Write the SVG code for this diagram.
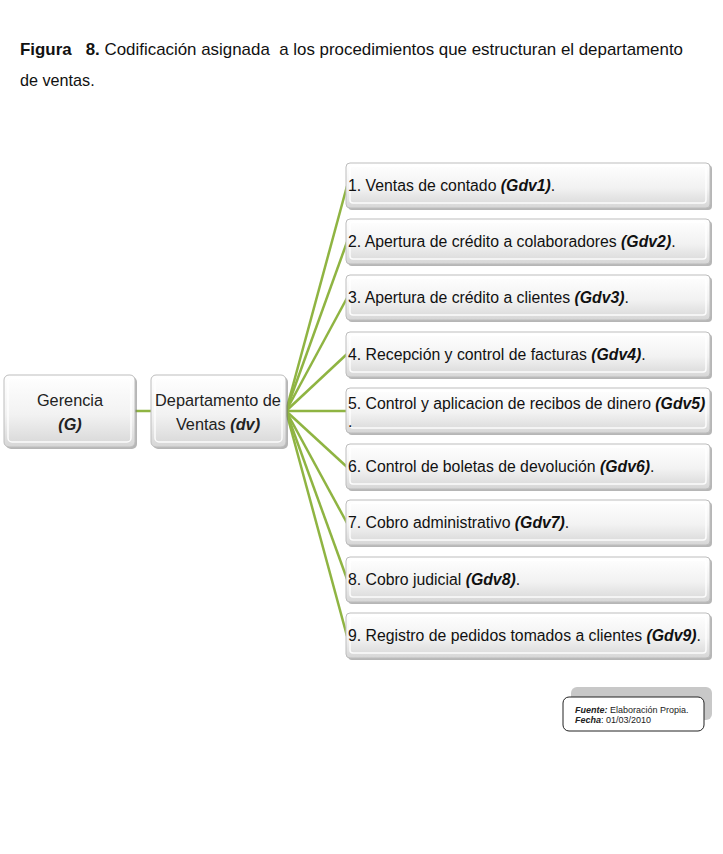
<svg xmlns="http://www.w3.org/2000/svg" width="723" height="854" viewBox="0 0 723 854">
<style>
.t{font-family:"Liberation Sans",Arial,sans-serif;font-size:15.8px;fill:#111}
.c{font-family:"Liberation Sans",Arial,sans-serif;font-size:16.3px;fill:#222;text-anchor:middle}
.bi{font-weight:bold;font-style:italic}
.box{fill:url(#g);stroke:#bdbdbd;stroke-width:1}
.sh{fill:#7a7a7a;opacity:0.55}
.hl{fill:none;stroke:#ffffff;stroke-width:1.5;opacity:0.9}
.con{stroke:#8fb442;stroke-width:2.5;fill:none}
.cap{font-family:"Liberation Sans",Arial,sans-serif;font-size:16.2px;fill:#111;white-space:pre}
.f{font-family:"Liberation Sans",Arial,sans-serif;font-size:9px;fill:#222}
</style>
<defs>
<linearGradient id="g" x1="0" y1="0" x2="0" y2="1">
<stop offset="0" stop-color="#ffffff"/>
<stop offset="0.55" stop-color="#f2f2f2"/>
<stop offset="1" stop-color="#d6d6d6"/>
</linearGradient>
</defs>
<rect width="723" height="854" fill="#ffffff"/>
<g id="title">
<text class="cap" x="20" y="55" textLength="663" lengthAdjust="spacingAndGlyphs"><tspan font-weight="bold">Figura   8.</tspan> Codificación asignada  a los procedimientos que estructuran el departamento</text>
<text class="cap" x="20" y="86">de ventas.</text>
</g>
<g id="connectors">
<line class="con" x1="135" y1="411" x2="151" y2="411"/>
<line class="con" x1="286" y1="411" x2="347" y2="186"/>
<line class="con" x1="286" y1="411" x2="347" y2="242"/>
<line class="con" x1="286" y1="411" x2="347" y2="298"/>
<line class="con" x1="286" y1="411" x2="347" y2="354"/>
<line class="con" x1="286" y1="411" x2="347" y2="411"/>
<line class="con" x1="286" y1="411" x2="347" y2="467"/>
<line class="con" x1="286" y1="411" x2="347" y2="523"/>
<line class="con" x1="286" y1="411" x2="347" y2="579"/>
<line class="con" x1="286" y1="411" x2="347" y2="636"/>
</g>
<g id="gerencia">
<rect class="sh" x="6" y="377" width="131" height="72" rx="5"/>
<rect class="box" x="4" y="375" width="131" height="72" rx="5"/>
<rect class="hl" x="8" y="378" width="123" height="64" rx="4"/>
<text class="c" x="70" y="406">Gerencia</text>
<text class="c bi" x="70" y="430">(G)</text>
</g>
<g id="departamento">
<rect class="sh" x="153" y="377" width="135" height="72" rx="5"/>
<rect class="box" x="151" y="375" width="135" height="72" rx="5"/>
<rect class="hl" x="155" y="378" width="127" height="64" rx="4"/>
<text class="c" x="218" y="406">Departamento de</text>
<text class="c" x="218" y="430">Ventas <tspan class="bi">(dv)</tspan></text>
</g>
<g id="p1">
<rect class="sh" x="348" y="165" width="364" height="45" rx="4"/>
<rect class="box" x="346" y="163" width="364" height="45" rx="4"/>
<rect class="hl" x="350" y="166" width="356" height="37" rx="3"/>
<text class="t" x="348" y="191">1. Ventas de contado <tspan class="bi">(Gdv1)</tspan>.</text>
</g>
<g id="p2">
<rect class="sh" x="348" y="221" width="364" height="45" rx="4"/>
<rect class="box" x="346" y="219" width="364" height="45" rx="4"/>
<rect class="hl" x="350" y="222" width="356" height="37" rx="3"/>
<text class="t" x="348" y="247">2. Apertura de crédito a colaboradores <tspan class="bi">(Gdv2)</tspan>.</text>
</g>
<g id="p3">
<rect class="sh" x="348" y="277" width="364" height="45" rx="4"/>
<rect class="box" x="346" y="275" width="364" height="45" rx="4"/>
<rect class="hl" x="350" y="278" width="356" height="37" rx="3"/>
<text class="t" x="348" y="303">3. Apertura de crédito a clientes <tspan class="bi">(Gdv3)</tspan>.</text>
</g>
<g id="p4">
<rect class="sh" x="348" y="334" width="364" height="45" rx="4"/>
<rect class="box" x="346" y="332" width="364" height="45" rx="4"/>
<rect class="hl" x="350" y="335" width="356" height="37" rx="3"/>
<text class="t" x="348" y="360">4. Recepción y control de facturas <tspan class="bi">(Gdv4)</tspan>.</text>
</g>
<g id="p5">
<rect class="sh" x="348" y="390" width="364" height="45" rx="4"/>
<rect class="box" x="346" y="388" width="364" height="45" rx="4"/>
<rect class="hl" x="350" y="391" width="356" height="37" rx="3"/>
<text class="t" x="348" y="409">5. Control y aplicacion de recibos de dinero <tspan class="bi">(Gdv5)</tspan></text>
<text class="t" x="348" y="427">.</text>
</g>
<g id="p6">
<rect class="sh" x="348" y="446" width="364" height="45" rx="4"/>
<rect class="box" x="346" y="444" width="364" height="45" rx="4"/>
<rect class="hl" x="350" y="447" width="356" height="37" rx="3"/>
<text class="t" x="348" y="472">6. Control de boletas de devolución <tspan class="bi">(Gdv6)</tspan>.</text>
</g>
<g id="p7">
<rect class="sh" x="348" y="502" width="364" height="45" rx="4"/>
<rect class="box" x="346" y="500" width="364" height="45" rx="4"/>
<rect class="hl" x="350" y="503" width="356" height="37" rx="3"/>
<text class="t" x="348" y="528">7. Cobro administrativo <tspan class="bi">(Gdv7)</tspan>.</text>
</g>
<g id="p8">
<rect class="sh" x="348" y="559" width="364" height="45" rx="4"/>
<rect class="box" x="346" y="557" width="364" height="45" rx="4"/>
<rect class="hl" x="350" y="560" width="356" height="37" rx="3"/>
<text class="t" x="348" y="585">8. Cobro judicial <tspan class="bi">(Gdv8)</tspan>.</text>
</g>
<g id="p9">
<rect class="sh" x="348" y="615" width="364" height="45" rx="4"/>
<rect class="box" x="346" y="613" width="364" height="45" rx="4"/>
<rect class="hl" x="350" y="616" width="356" height="37" rx="3"/>
<text class="t" x="348" y="641">9. Registro de pedidos tomados a clientes <tspan class="bi">(Gdv9)</tspan>.</text>
</g>
<g id="fuente">
<rect x="571" y="687" width="141" height="33" rx="6" fill="#c8c8c8"/>
<rect x="563" y="697" width="141" height="34" rx="6" fill="#ffffff" stroke="#222" stroke-width="1"/>
<text class="f" x="575" y="713"><tspan class="bi">Fuente:</tspan> Elaboración Propia.</text>
<text class="f" x="575" y="723"><tspan class="bi">Fecha</tspan>: 01/03/2010</text>
</g>
</svg>
